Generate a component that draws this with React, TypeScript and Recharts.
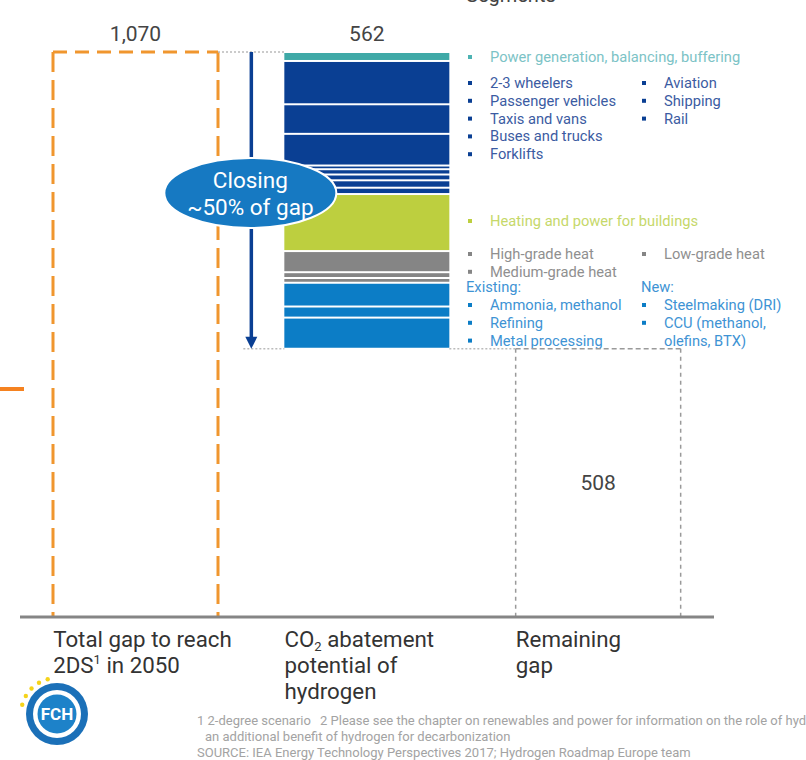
import React from 'react';
import { BarChart, Bar, XAxis, YAxis, LabelList, Customized } from 'recharts';

// categories on the x axis (^ = superscript, _ = subscript)
const categories = ['Total gap', 'CO2 abatement', 'Remaining gap'];
const categoryLines = [
  ['Total gap to reach', '2DS^1 in 2050'],
  ['CO_2 abatement', 'potential of', 'hydrogen'],
  ['Remaining', 'gap'],
];

const totalGap = 1070;
const remainingGap = 508;

// abatement potential by segment, top of the stack first
const segmentValues = [17, 82, 56, 60, 7, 10, 11, 14, 12, 108, 40, 11, 9, 45, 21, 59];
const segmentGroups = [
  'power',
  'transport', 'transport', 'transport', 'transport', 'transport', 'transport', 'transport', 'transport',
  'buildings',
  'heat', 'heat', 'heat',
  'industry', 'industry', 'industry',
];

const groupColors: Record<string, string> = {
  power: '#3fa9a7',
  transport: '#0a3f93',
  buildings: '#bdcf3f',
  heat: '#858585',
  industry: '#0c7dc6',
};

const legendPower = ['Power generation, balancing, buffering'];
const legendTransportA = ['2-3 wheelers', 'Passenger vehicles', 'Taxis and vans', 'Buses and trucks', 'Forklifts'];
const legendTransportB = ['Aviation', 'Shipping', 'Rail'];
const legendBuildings = ['Heating and power for buildings'];
const legendHeatA = ['High-grade heat', 'Medium-grade heat'];
const legendHeatB = ['Low-grade heat'];
const legendIndustryA = ['Ammonia, methanol', 'Refining', 'Metal processing'];
const legendIndustryB = ['Steelmaking (DRI)', 'CCU (methanol,'];

const footnote1 = ['1 2-degree scenario', '2 Please see the chapter on renewables and power for information on the role of hydrogen as'];
const footnote2 = 'an additional benefit of hydrogen for decarbonization';
const source = 'SOURCE: IEA Energy Technology Perspectives 2017; Hydrogen Roadmap Europe team';

const abatement = segmentValues.reduce((a, b) => a + b, 0);

const data = categories.map((name, i) => {
  const row: Record<string, string | number> = { name, total: 0, remaining: 0, base: 0 };
  segmentValues.forEach((v, k) => {
    row['seg' + k] = i === 1 ? v : 0;
  });
  if (i === 0) row.total = totalGap;
  if (i === 1) row.base = remainingGap;
  if (i === 2) row.remaining = remainingGap;
  return row;
});

const W = 806;
const H = 760;
const MARGIN = { top: 52, right: 92, bottom: 113, left: 20 };
const BAND = (W - MARGIN.left - MARGIN.right) / categories.length;
const BAR = 165;
const FONT = 'Roboto, "DejaVu Sans", sans-serif';
const LEGEND_SIZE = 14.7;

const fmt = (v: number) => v.toLocaleString('en-US');

function renderRich(line: string) {
  const parts = line.split(/([_^]\d)/).filter(Boolean);
  return parts.map((p, i) => {
    if (p[0] === '^') return <tspan key={i} fontSize={13} dy={-9}>{p.slice(1)}</tspan>;
    if (p[0] === '_') return <tspan key={i} fontSize={13} dy={4}>{p.slice(1)}</tspan>;
    const prev = parts[i - 1];
    const dy = prev && prev[0] === '^' ? 9 : prev && prev[0] === '_' ? -4 : 0;
    return <tspan key={i} dy={dy}>{p}</tspan>;
  });
}

const CategoryTick = (props: any) => {
  const { x, y, payload } = props;
  const lines = categoryLines[payload.index] || [];
  return (
    <g>
      {lines.map((l, i) => (
        <text key={i} x={x - BAR / 2} y={y + 22 + i * 26} fontSize={22.3} fill="#333" fontFamily={FONT}>
          {renderRich(l)}
        </text>
      ))}
    </g>
  );
};

const GapBox = (props: any) => {
  const { x, y, width, height } = props;
  if (!height) return null;
  const b = y + height;
  return (
    <g>
      <line x1={x} y1={y} x2={x} y2={b} stroke="#f0962e" strokeWidth={3} strokeDasharray="20 8" />
      <line x1={x + width} y1={y} x2={x + width} y2={b} stroke="#f0962e" strokeWidth={3} strokeDasharray="20 8" />
      <line x1={x} y1={y} x2={x + width} y2={y} stroke="#f0962e" strokeWidth={3} strokeDasharray="14 8" />
      <line x1={x + width} y1={y} x2={x + BAND} y2={y} stroke="#bbb" strokeWidth={1.5} strokeDasharray="2 2" />
    </g>
  );
};

const RemainingBox = (props: any) => {
  const { x, y, width, height } = props;
  if (!height) return null;
  const b = y + height;
  return (
    <g>
      <line x1={x - (BAND - width)} y1={y} x2={x} y2={y} stroke="#bbb" strokeWidth={1.5} strokeDasharray="2 2" />
      <line x1={x} y1={y} x2={x + width} y2={y} stroke="#9a9a9a" strokeWidth={1.5} strokeDasharray="5 3" />
      <line x1={x} y1={y} x2={x} y2={b} stroke="#9a9a9a" strokeWidth={1.5} strokeDasharray="4 4" />
      <line x1={x + width} y1={y} x2={x + width} y2={b} stroke="#9a9a9a" strokeWidth={1.5} strokeDasharray="4 4" />
    </g>
  );
};

const Segment = (props: any) => {
  const { x, y, width, height, fill } = props;
  if (!height) return null;
  return <rect x={x} y={y + 1} width={width} height={Math.max(0, height - 2)} fill={fill} />;
};

// "562" total, the arrow and the "closing" bubble, drawn on top of the stack
const StackNote = (props: any) => {
  const { x, y, width, height, value } = props;
  if (!value || !height) return null;
  const unit = height / value;
  const bottom = y + abatement * unit;
  const ax = x - 33;
  return (
    <g>
      <text x={x + width / 2} y={y - 11} textAnchor="middle" fontSize={21} fill="#444" fontFamily={FONT}>
        {fmt(abatement)}
      </text>
      <line x1={ax - 8} y1={bottom} x2={x} y2={bottom} stroke="#bbb" strokeWidth={1.5} strokeDasharray="2 2" />
      <line x1={ax} y1={y} x2={ax} y2={bottom - 10} stroke="#0a3f93" strokeWidth={3.5} />
      <polygon points={`${ax - 6},${bottom - 12} ${ax + 6},${bottom - 12} ${ax},${bottom}`} fill="#0a3f93" />
      <ellipse cx={ax - 1} cy={y + 141} rx={86} ry={35} fill="#1679c2" stroke="#fff" strokeWidth={2} />
      <text x={ax - 1} y={y + 136} textAnchor="middle" fontSize={22.5} fill="#fff" fontFamily={FONT}>Closing</text>
      <text x={ax - 1} y={y + 163} textAnchor="middle" fontSize={22.5} fill="#fff" fontFamily={FONT}>~50% of gap</text>
    </g>
  );
};

const Item = ({ x, y, text, color, bullet }: { x: number; y: number; text: string; color: string; bullet?: string }) => (
  <g>
    {bullet && <rect x={x - 22} y={y - 7} width={4} height={4} fill={bullet} />}
    <text x={x} y={y} fontSize={LEGEND_SIZE} fill={color} fontFamily={FONT}>{text}</text>
  </g>
);

const Notes = () => {
  const L = 490;
  const R = 664;
  const step = 17.8;
  const small = { fontSize: 13, fill: '#a3a3a3', fontFamily: FONT };
  return (
    <g>
      {/* cropped slide fragments */}
      <text x={466} y={2} fontSize={20} fill="#444" fontFamily={FONT}>Segments</text>
      <rect x={0} y={387} width={24} height={4} fill="#f58220" />

      {legendPower.map((t, i) => <Item key={t} x={L} y={62 + i * step} text={t} color="#7cc3c6" bullet="#4db3b3" />)}
      {legendTransportA.map((t, i) => <Item key={t} x={L} y={88 + i * step} text={t} color="#3b5ba2" bullet="#0a3f93" />)}
      {legendTransportB.map((t, i) => <Item key={t} x={R} y={88 + i * step} text={t} color="#3b5ba2" bullet="#0a3f93" />)}
      {legendBuildings.map((t, i) => <Item key={t} x={L} y={226 + i * step} text={t} color="#c6d86a" bullet="#bdcf3f" />)}
      {legendHeatA.map((t, i) => <Item key={t} x={L} y={259 + i * step} text={t} color="#8f8f8f" bullet="#858585" />)}
      {legendHeatB.map((t, i) => <Item key={t} x={R} y={259 + i * step} text={t} color="#8f8f8f" bullet="#858585" />)}
      <text x={466} y={292} fontSize={LEGEND_SIZE} fill="#3e93d4" fontFamily={FONT}>Existing:</text>
      <text x={641} y={292} fontSize={LEGEND_SIZE} fill="#3e93d4" fontFamily={FONT}>New:</text>
      {legendIndustryA.map((t, i) => <Item key={t} x={L} y={310 + i * step} text={t} color="#3e93d4" bullet="#0c7dc6" />)}
      {legendIndustryB.map((t, i) => <Item key={t} x={R} y={310 + i * step} text={t} color="#3e93d4" bullet="#0c7dc6" />)}
      <Item x={R} y={310 + 2 * step} text="olefins, BTX)" color="#3e93d4" />

      <text x={197} y={725} {...small}>{footnote1[0]}</text>
      <text x={320} y={725} {...small}>{footnote1[1]}</text>
      <text x={205} y={741} {...small}>{footnote2}</text>
      <text x={197} y={757} {...small}>{source}</text>

      {/* FCH logo */}
      <g>
        {[195, 210, 225, 240, 255].map((a) => (
          <circle key={a} cx={57 + 36 * Math.cos((a * Math.PI) / 180)} cy={714 + 36 * Math.sin((a * Math.PI) / 180)} r={2.2} fill="#f5d31a" />
        ))}
        <circle cx={57} cy={714} r={31} fill="#1b70b8" />
        <circle cx={57} cy={714} r={24} fill="#fff" />
        <circle cx={57} cy={714} r={19.5} fill="#1d82c9" />
        <text x={57} y={720} textAnchor="middle" fontSize={17} fontWeight="bold" fill="#fff" fontFamily={FONT}>FCH</text>
      </g>
    </g>
  );
};

export default function App() {
  const bars = segmentValues.map((_, k) => k).reverse();
  return (
    <div style={{ position: 'absolute', left: 0, top: 0, background: '#fff' }}>
      <BarChart width={W} height={H} data={data} margin={MARGIN} barSize={BAR}>
        <XAxis
          dataKey="name"
          height={30}
          interval={0}
          tickLine={false}
          axisLine={{ stroke: '#858585', strokeWidth: 3 }}
          tick={CategoryTick}
        />
        <YAxis hide domain={[0, totalGap]} />
        <Bar dataKey="total" stackId="a" shape={GapBox} isAnimationActive={false}>
          <LabelList
            dataKey="total"
            position="top"
            offset={11}
            fontSize={21}
            fill="#444"
            fontFamily={FONT}
            formatter={(v: any) => (v ? fmt(v) : '')}
          />
        </Bar>
        <Bar dataKey="remaining" stackId="a" shape={RemainingBox} isAnimationActive={false}>
          <LabelList
            dataKey="remaining"
            position="center"
            fontSize={21}
            fill="#444"
            fontFamily={FONT}
            formatter={(v: any) => (v ? fmt(v) : '')}
          />
        </Bar>
        <Bar dataKey="base" stackId="a" fill="transparent" isAnimationActive={false} />
        {bars.map((k) => (
          <Bar
            key={k}
            dataKey={'seg' + k}
            stackId="a"
            fill={groupColors[segmentGroups[k]]}
            shape={Segment}
            isAnimationActive={false}
          >
            {k === 0 && <LabelList dataKey="seg0" content={StackNote} />}
          </Bar>
        ))}
        <Customized component={<Notes />} />
      </BarChart>
    </div>
  );
}
